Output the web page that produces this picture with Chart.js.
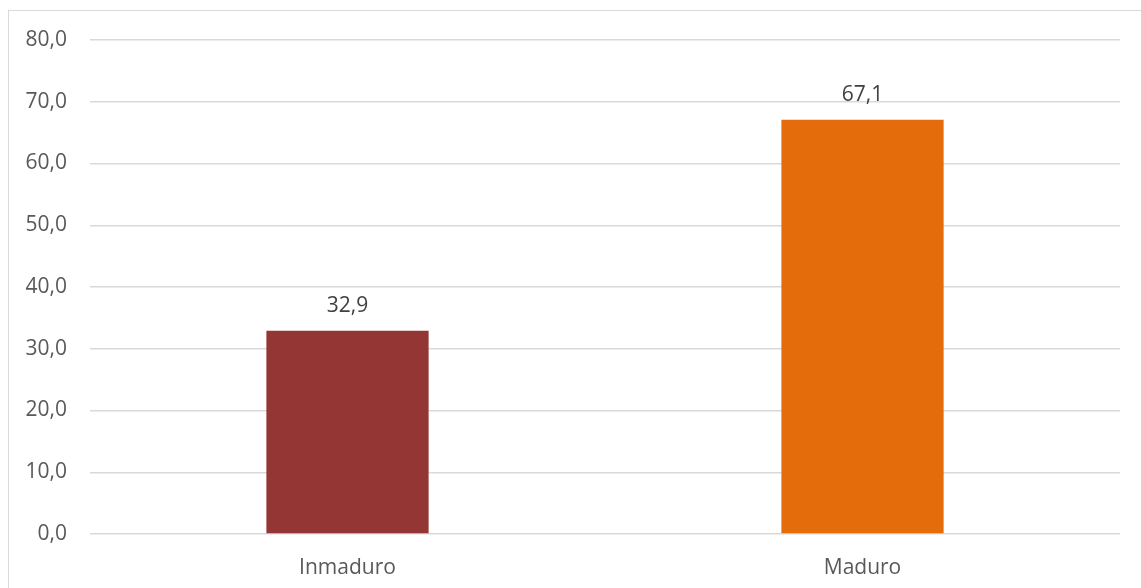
<!DOCTYPE html>
<html>
<head>
<meta charset="utf-8">
<script src="https://cdn.jsdelivr.net/npm/chart.js@4"></script>
<style>
  html, body { margin: 0; padding: 0; background: #fff; overflow: hidden; }
  #frame {
    position: absolute; left: 8px; top: 10px;
    width: 1160px; height: 600px;
    border: 1px solid #d9d9d9;
  }
  #wrap { position: absolute; left: 0; top: 0; width: 1141px; height: 588px; }
</style>
</head>
<body>
<div id="frame"></div>
<div id="wrap"><canvas id="chart"></canvas></div>
<script>
const categories = ['Inmaduro', 'Maduro'];
const values = [32.9, 67.1];
const barColors = ['#943634', '#E46C0A'];
const yTicks = { min: 0, max: 80, step: 10 };

const fmt = v => v.toFixed(1).replace('.', ',');

// value labels above each bar
const valueLabels = {
  id: 'valueLabels',
  afterDatasetsDraw(chart) {
    const { ctx } = chart;
    const meta = chart.getDatasetMeta(0);
    ctx.save();
    ctx.font = "21px 'Open Sans', sans-serif";
    ctx.fillStyle = '#404040';
    ctx.textAlign = 'center';
    ctx.textBaseline = 'alphabetic';
    meta.data.forEach((bar, i) => {
      ctx.fillText(fmt(values[i]), bar.x, bar.y - 19);
    });
    ctx.restore();
  }
};

Chart.defaults.font.family = "'Open Sans', sans-serif";
Chart.defaults.font.size = 21;
Chart.defaults.color = '#595959';

new Chart(document.getElementById('chart').getContext('2d'), {
  type: 'bar',
  data: {
    labels: categories,
    datasets: [{
      data: values,
      backgroundColor: barColors,
      borderWidth: 0,
      barPercentage: 1,
      categoryPercentage: 0.315
    }]
  },
  options: {
    responsive: true,
    maintainAspectRatio: false,
    animation: false,
    layout: { padding: { top: 40, right: 21, left: 0, bottom: 0 } },
    plugins: {
      legend: { display: false },
      tooltip: { enabled: false }
    },
    scales: {
      x: {
        grid: { display: false },
        border: { display: false },
        ticks: { padding: 13, color: '#595959' },
        afterFit: axis => { axis.height = 54; }
      },
      y: {
        min: yTicks.min,
        max: yTicks.max,
        grid: { color: '#d9d9d9', lineWidth: 1.5, drawTicks: false },
        border: { display: false },
        ticks: {
          stepSize: yTicks.step,
          padding: 23,
          color: '#595959',
          callback: v => fmt(v)
        },
        afterFit: axis => { axis.width = 90; }
      }
    }
  },
  plugins: [valueLabels]
});
</script>
</body>
</html>
